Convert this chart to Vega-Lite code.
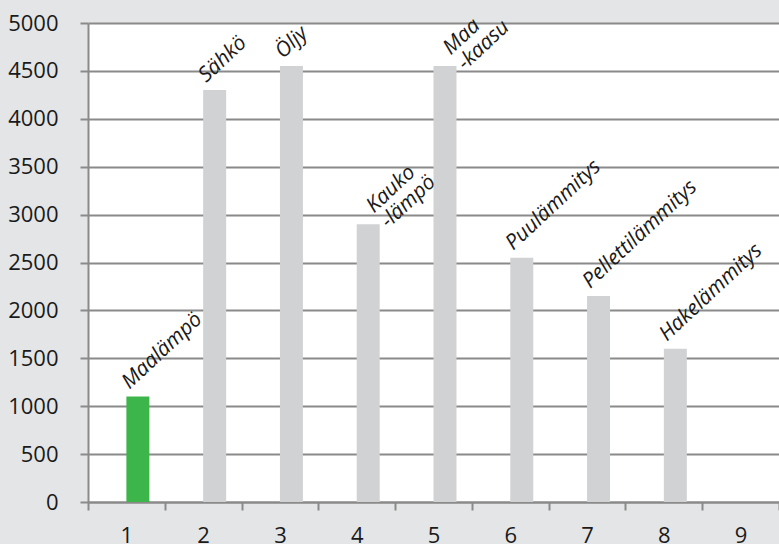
{
  "$schema": "https://vega.github.io/schema/vega-lite/v6.json",
  "width": 691,
  "height": 479,
  "autosize": {"type": "none"},
  "padding": {"left": 88, "top": 23, "right": 0, "bottom": 42},
  "background": "#e4e5e6",
  "config": {
    "view": {"fill": "white", "stroke": null},
    "font": "Open Sans",
    "axis": {
      "labelFont": "Open Sans",
      "labelFontSize": 22,
      "labelColor": "#1a1a1a",
      "tickColor": "#8a8a8a",
      "tickWidth": 2,
      "tickSize": 8,
      "domainColor": "#8a8a8a",
      "domainWidth": 2,
      "gridColor": "#8a8a8a",
      "gridWidth": 2,
      "title": null
    }
  },
  "data": {
    "values": [
      {"n": "1", "name": "Maalämpö", "value": 1100},
      {"n": "2", "name": "Sähkö", "value": 4300},
      {"n": "3", "name": "Öljy", "value": 4550},
      {"n": "4", "name": "Kauko\n-lämpö", "value": 2900},
      {"n": "5", "name": "Maa\n-kaasu", "value": 4550},
      {"n": "6", "name": "Puulämmitys", "value": 2550},
      {"n": "7", "name": "Pellettilämmitys", "value": 2150},
      {"n": "8", "name": "Hakelämmitys", "value": 1600}
    ]
  },
  "encoding": {
    "x": {
      "field": "n",
      "type": "ordinal",
      "scale": {"domain": ["1","2","3","4","5","6","7","8","9"], "paddingInner": 0, "paddingOuter": 0},
      "axis": {"labelAngle": 0, "tickBand": "extent", "grid": false, "labelPadding": 15, "domain": true}
    },
    "y": {
      "field": "value",
      "type": "quantitative",
      "scale": {"domain": [0, 5000], "nice": false},
      "axis": {"values": [0,500,1000,1500,2000,2500,3000,3500,4000,4500,5000], "format": "d", "grid": true, "labelPadding": 22}
    }
  },
  "layer": [
    {
      "mark": {"type": "bar"},
      "encoding": {
        "xOffset": {"datum": "b", "scale": {"domain": ["a", "b"], "paddingInner": 0, "paddingOuter": 0.67}},
        "color": {
          "condition": {"test": "datum.n === '1'", "value": "#3cb54a"},
          "value": "#d1d2d4"
        }
      }
    },
    {
      "transform": [{"filter": "indexof(datum.name, '\\n') < 0"}],
      "mark": {"type": "text", "angle": -43, "align": "left", "baseline": "alphabetic", "dx": 7, "dy": -3, "fontSize": 21, "fontStyle": "italic", "font": "Open Sans", "color": "#1a1a1a"},
      "encoding": {"text": {"field": "name"}}
    },
    {
      "transform": [{"filter": "indexof(datum.name, '\\n') >= 0"}],
      "mark": {"type": "text", "angle": -43, "align": "left", "baseline": "alphabetic", "dx": 20, "dy": 4, "lineBreak": "\n", "lineHeight": 21, "fontSize": 21, "fontStyle": "italic", "font": "Open Sans", "color": "#1a1a1a"},
      "encoding": {"text": {"field": "name"}}
    }
  ]
}
